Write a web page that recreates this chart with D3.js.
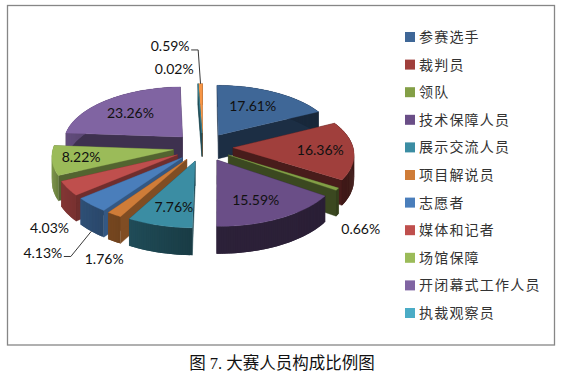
<!DOCTYPE html>
<html>
<head>
<meta charset="utf-8">
<script src="https://cdn.jsdelivr.net/npm/d3@7"></script>
<style>
  html, body { margin: 0; padding: 0; background: #fff; }
  svg { display: block; }
</style>
</head>
<body>
<div id="wrapper"></div>
<script>
const categories = ["参赛选手", "裁判员", "领队", "技术保障人员", "展示交流人员", "项目解说员", "志愿者", "媒体和记者", "场馆保障", "开闭幕式工作人员", "执裁观察员"]
const shares = [17.61, 16.36, 0.66, 15.59, 7.76, 1.76, 4.13, 4.03, 8.22, 23.26, 0.02, 0.59]
const colors = ["#3f6797", "#a03f3c", "#839f46", "#6a4e87", "#3b8da3", "#cf7c38", "#4a7ebb", "#bf4f4d", "#9bbb59", "#8064a2", "#4bacc6", "#f79646"]
// label nudges from the default spot on each slice
const labelNudge = [[-3, -1], [9, 0], [63, 52], [-1, 3], [1, 5], [-37, 64], [-82, 65], [-58, 51], [-14, 0], [-2, 0], [-25, -31], [-31, -54]]

const width = 564
const height = 379
const pieShape = { cx: 203, cy: 147, rx: 120, ry: 57, persp: 0.1, depth: 24, explode: 0.25 }

const svg = d3.select("#wrapper")
  .append("svg")
    .attr("width", width)
    .attr("height", height)

// chart frame
svg.append("rect")
    .attr("x", 7.5)
    .attr("y", 5.5)
    .attr("width", 547)
    .attr("height", 339.5)
    .attr("fill", "#fff")
    .attr("stroke", "#868686")
    .attr("stroke-width", 1.3)

const pie = d3.pie().sort(null).value(d => d)
const slices = pie(shares).map((d, i) => ({ ...d, i, mid: (d.startAngle + d.endAngle) / 2 }))

// plane position -> screen position, with a little perspective
const project = (u, v, down = 0) => {
  const w = 1 / (1 - pieShape.persp * v)
  return [
    pieShape.cx + pieShape.rx * u * w,
    pieShape.cy + pieShape.ry * v * w + down * pieShape.depth * w,
  ]
}
const onSlice = (s, a, r, down = 0) => {
  const ox = pieShape.explode * Math.sin(s.mid)
  const oy = -pieShape.explode * Math.cos(s.mid)
  return project(ox + r * Math.sin(a), oy - r * Math.cos(a), down)
}

const line = d3.line()
const wallShade = d3.scaleLinear().domain([0, 90, 180, 270, 360]).range([0.4, 0.38, 0.42, 0.8, 0.5])
const cutShade = d3.scaleLinear().domain([190, 225, 240, 360]).range([0.45, 0.72, 0.55, 0.45]).clamp(true)
const darker = (c, k) => {
  const o = d3.rgb(c)
  return d3.rgb(o.r * k, o.g * k, o.b * k).formatHex()
}
const toDeg = a => a * 180 / Math.PI

// back slices first
const order = [...slices].sort((a, b) => -Math.cos(a.mid) - -Math.cos(b.mid))
const pieGroup = svg.append("g")

order.forEach(s => {
  const g = pieGroup.append("g")
  const color = colors[s.i]
  const steps = Math.max(2, Math.ceil(toDeg(s.endAngle - s.startAngle)))
  const angles = d3.range(steps + 1).map(k => s.startAngle + (s.endAngle - s.startAngle) * k / steps)

  // cut faces
  const cutColor = darker(color, cutShade(toDeg(s.mid)))
  ;[s.startAngle, s.endAngle].forEach(a => {
    g.append("path")
        .attr("d", line([onSlice(s, a, 0), onSlice(s, a, 1), onSlice(s, a, 1, 1), onSlice(s, a, 0, 1)]) + "Z")
        .attr("fill", cutColor)
        .attr("stroke", cutColor)
        .attr("stroke-width", 0.4)
  })

  // outer wall, one strip per step so the shading can change around the rim.
  // each strip runs on to the end of the next one so no seams show
  d3.pairs(angles).forEach(([a, b], k) => {
    const wall = darker(color, wallShade(toDeg((a + b) / 2)))
    const far = angles[Math.min(k + 2, steps)]
    g.append("path")
        .attr("d", line([onSlice(s, a, 1), onSlice(s, far, 1), onSlice(s, far, 1, 1), onSlice(s, a, 1, 1)]) + "Z")
        .attr("fill", wall)
  })

  // top face
  g.append("path")
      .attr("d", line([onSlice(s, s.mid, 0), ...angles.map(a => onSlice(s, a, 1))]) + "Z")
      .attr("fill", color)
      .attr("stroke", color)
      .attr("stroke-width", 0.3)
})

// data labels
const labelSpot = s => {
  const p = onSlice({ mid: s.mid }, s.mid, 0.65)
  return [p[0] + labelNudge[s.i][0], p[1] + labelNudge[s.i][1]]
}
svg.append("g").selectAll("text")
  .data(slices)
  .join("text")
    .attr("x", d => labelSpot(d)[0])
    .attr("y", d => labelSpot(d)[1])
    .attr("text-anchor", "middle")
    .attr("dominant-baseline", "central")
    .attr("font-family", "Lato, 'Open Sans', sans-serif")
    .attr("font-size", 14)
    .attr("fill", "#111")
    .text(d => d.value.toFixed(2) + "%")

// leader lines for the two labels that have them
;[6, 11].forEach(i => {
  const s = slices[i]
  const spot = labelSpot(s)
  const rim = onSlice(s, s.mid, 1, i === 6 ? 1 : 0)
  svg.append("path")
      .attr("d", line([[spot[0] + 21, spot[1] + 4], [spot[0] + 28, spot[1] + 4], rim]))
      .attr("fill", "none")
      .attr("stroke", "#222")
      .attr("stroke-width", 0.9)
})

// legend
const legendY = d3.scalePoint().domain(categories).range([36, 312])
const legend = svg.append("g").selectAll("g")
  .data(categories)
  .join("g")
    .attr("transform", d => `translate(405, ${legendY(d)})`)
legend.append("rect")
    .attr("y", -4)
    .attr("width", 10)
    .attr("height", 10)
    .attr("fill", (d, i) => colors[i])
legend.append("text")
    .attr("x", 14)
    .attr("dominant-baseline", "central")
    .attr("font-family", "'Noto Sans CJK SC', sans-serif")
    .attr("font-size", 14)
    .attr("letter-spacing", 1.2)
    .attr("fill", "#333")
    .text(d => d)

// caption
svg.append("text")
    .attr("x", 282)
    .attr("y", 363)
    .attr("text-anchor", "middle")
    .attr("dominant-baseline", "central")
    .attr("font-family", "'Liberation Serif', 'Noto Sans CJK SC', serif")
    .attr("font-size", 16.5)
    .attr("fill", "#111")
    .text("图 7. 大赛人员构成比例图")
</script>
</body>
</html>
